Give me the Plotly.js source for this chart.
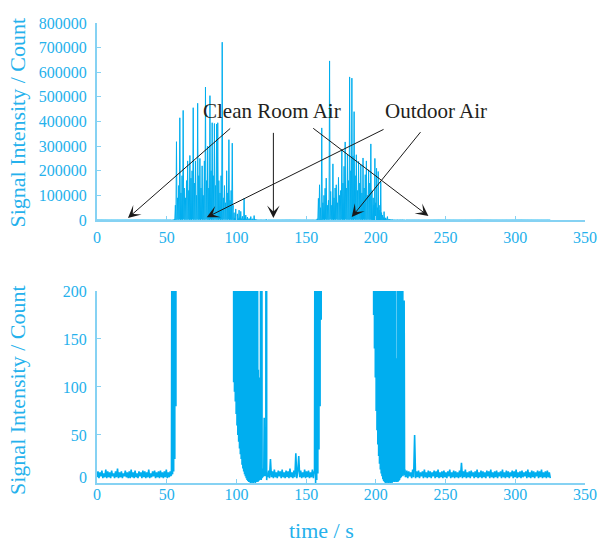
<!DOCTYPE html>
<html>
<head>
<meta charset="utf-8">
<script src="https://cdn.plot.ly/plotly-3.0.1.min.js"></script>
<style>html,body{margin:0;padding:0;background:#fff}#chart{width:601px;height:543px}</style>
</head>
<body>
<div id="chart"></div>
<script>
// ---- data (time in s, signal in counts), each segment regularly sampled ----
const segStart = [0, 53.4, 98.0, 122.3, 156.0, 197.8, 221.5];
const segStep  = [0.7, 0.4, 0.3, 0.7, 0.4, 0.3, 0.7];

const baseline1 = [6,12,5,11,7,13,5,10,6,14, 5,12,6,11,5,13,7,10,5,12, 6,15,5,11,6,12,5,10,7,13,
  6,11,5,12,5,14,6,11,5,13, 6,10,5,12,7,11,5,13,6,12, 5,11,6,14,5,10,6,12,7,13, 5,11,6,12,5,13,6,11,5,12,
  6,14,5,11,6,12,7];
const burst1 = [8,350,9,900,12,3000,25,60000,80,318000,1500,90000,800,140000,2000,415000,700,110000,1800,180000,
  900,445000,2500,130000,600,90000,1400,160000,800,240000,2000,120000,700,262000,1600,170000,900,200000,2200,456000,
  800,150000,1500,240000,600,100000,2000,474000,900,180000,1700,250000,700,130000,2400,220000,800,100000,1500,240000,
  600,540000,2000,160000,900,300000,1300,130000,700,505000,2200,200000,800,395000,1500,180000,600,392000,1900,140000,
  900,390000,1400,395000,700,160000,2000,110000,800,180000,1600,722000,600,90000,1800,140000,900,70000,1500,200000,
  700,110000,2100,326000,800,80000,1300,120000,600,312000,900,60000];
const decay1 = [105,30000,95,8000,85,45000,72,12000,60,25000,50,6000,43,40000,36,9000,30,35000,25,5000,19,15000,
  15,4000,12,88000,9,3000,7,20000,5,2500,3,12000,2,1800,1,6000,1,1500,0,14000,1,1200,0,5000,1,900,0,18000,1,600,
  0,3000,1,500,2,300,1,118,2,110,3,95,4,900,3,600,5,14,6,15,7,68,8,13,7,14,2500,3,11];
const baseline2 = [6,13,5,25,6,12,5,14,6,11, 5,13,7,12,5,14,6,11,5,13, 6,12,5,15,6,11,5,13,6,31,
  5,12,28,6,13,5,11,6,14,5, 12,6,13,5,11,6,14,5,12];
const burst2 = [10,400,0,900,3,5000,10,88000,35,143000,80,50000,170,374000,800,70000,1500,100000,600,129000,
  2000,170000,900,60000,1200,80000,700,646000,2500,116000,800,60000,1500,228000,600,90000,1800,130000,900,143000,
  2200,70000,700,173000,1300,100000,500,120000,2000,286000,800,150000,1600,218000,700,317000,2400,130000,900,265000,
  1400,160000,600,581000,2000,200000,800,576000,1500,260000,700,440000,2200,180000,900,265000,1300,120000,600,238000,
  1800,150000,800,224000,1500,110000,700,252000,2000,130000,900,184000,1400,240000,600,100000,1700,204000,800,150000,
  1200,309000,500,120000,250];
const decay2 = [200,90000,175,60000,140,250000,110,70000,75,210000,55,50000,40,197000,28,40000,20,60000,14,156000,
  10,30000,7,20000,4,10000,2,34000,1,5000,0,9000,1,2000,0,14000,1,1000,0,4000,1,800,0,2500,1,600,0,1800,1,500,
  2,1000,1,400,2,130,1,125,2,700,1,140,2,900,3,600,5,1200,6,500,8,800,7,130,9,190,8,14,6];
const baseline3 = [6,13,5,12,7,11,5,14,6,50, 5,12,6,13,5,11,7,12,5,14, 6,11,5,13,6,12,5,11,7,13,
  5,12,6,14,5,11,6,12,5,13, 6,11,5,12,7,14,5,11,6,13, 5,12,6,11,5,13,6,21,5,12, 6,14,5,11,6,12,5,13,7,11,
  5,12,6,14,5,11,6,13,5,12, 6,11,5,13,7,12,5,14,6,11, 5,12,6,13,5,11,7,12,5,14, 6,11,5,13,6,12,5,11,7,13,
  5,12,6,14,5,11,6,12,5,13, 6,11,7,12,5,14,6,11,5,13, 6,12,5,11,7,13,5,12,6,14, 5,11,6,12,5,13,6,11,5];
const segments = [baseline1, burst1, decay1, baseline2, burst2, decay2, baseline3];

// tick labels
const xTicks = [0,50,100,150,200,250,300,350];
const topYTicks = [0,100000,200000,300000,400000,500000,600000,700000,800000];
const bottomYTicks = [50,100,150,200];

// annotation arrows (head / tail in data units of the top panel)
const arrowHeadT = [22.2, 126.5, 237.7, 78.7, 182.7];
const arrowHeadV = [8000, 8000, 16000, 11000, 12000];
const arrowTailT = [96.6, 126.5, 154.0, 206.6, 232.9];
const arrowTailV = [377000, 360000, 377000, 371000, 363000];
const labelTexts = ['Clean Room Air', 'Outdoor Air'];

// ---- styling ----
const dataColor = '#00AEEF';
const labelColor = '#25B1EC';
const lineColor = '#86D2F3';
const serif = 'Liberation Serif, Times New Roman, serif';

const traces = [];
segments.forEach((seg, i) => {
  [['x','y',1],['x2','y2',1.6]].forEach(([xa, ya, w]) => {
    traces.push({
      type: 'scatter', mode: 'lines', x0: segStart[i], dx: segStep[i], y: seg,
      xaxis: xa, yaxis: ya, hoverinfo: 'skip',
      line: {color: dataColor, width: w, simplify: false}
    });
  });
});

function xAxis(anchor, standoff) {
  return {
    anchor: anchor, domain: [0, 1], range: [0, 350], tickvals: xTicks,
    ticks: 'inside', ticklen: 4, tickcolor: lineColor, tickwidth: 1,
    showline: true, linecolor: lineColor, linewidth: 2, mirror: false,
    showgrid: false, zeroline: false, ticklabelstandoff: standoff,
    tickfont: {family: serif, size: 16, color: labelColor}
  };
}
function yAxis(anchor, domain, range, tickvals) {
  return {
    anchor: anchor, domain: domain, range: range, tickvals: tickvals, tickformat: 'd',
    ticks: 'inside', ticklen: 4, tickcolor: lineColor, tickwidth: 1,
    showline: true, linecolor: lineColor, linewidth: 2,
    showgrid: false, zeroline: false, ticklabelstandoff: 5,
    tickfont: {family: serif, size: 16, color: labelColor}
  };
}

const annotations = [];
for (let i = 0; i < arrowHeadT.length; i++) {
  annotations.push({
    xref: 'x', yref: 'y', axref: 'x', ayref: 'y',
    x: arrowHeadT[i], y: arrowHeadV[i], ax: arrowTailT[i], ay: arrowTailV[i],
    text: '', showarrow: true, arrowhead: 3, arrowsize: 2.1, arrowwidth: 1,
    arrowcolor: '#1a1a1a', standoff: 0, startstandoff: 0
  });
}
annotations.push({xref:'paper', yref:'paper', x:0.359, y:0.8087, xanchor:'center', yanchor:'middle',
  text: labelTexts[0], showarrow:false, font:{family:serif, size:21, color:'#231F20'}});
annotations.push({xref:'paper', yref:'paper', x:0.6953, y:0.8087, xanchor:'center', yanchor:'middle',
  text: labelTexts[1], showarrow:false, font:{family:serif, size:21, color:'#231F20'}});
annotations.push({xref:'paper', yref:'paper', x:0.461, y:(483-530.5)/460, xanchor:'center', yanchor:'middle',
  text:'time / s', showarrow:false, font:{family:serif, size:22, color:labelColor}});
annotations.push({xref:'paper', yref:'paper', x:-0.1619, y:0.7837, xanchor:'center', yanchor:'middle',
  text:'Signal Intensity / Count', textangle:-90, showarrow:false, font:{family:serif, size:22, color:labelColor}});
annotations.push({xref:'paper', yref:'paper', x:-0.1619, y:0.2022, xanchor:'center', yanchor:'middle',
  text:'Signal Intensity / Count', textangle:-90, showarrow:false, font:{family:serif, size:22, color:labelColor}});
annotations.push({xref:'paper', yref:'paper', x:-0.0174, y:(483-477.3)/460, xanchor:'right', yanchor:'middle',
  text:'0', showarrow:false, font:{family:serif, size:16, color:labelColor}});

const layout = {
  width: 601, height: 543,
  margin: {l: 97, r: 16, t: 23, b: 60, pad: 0},
  paper_bgcolor: '#ffffff', plot_bgcolor: '#ffffff',
  showlegend: false,
  xaxis: xAxis('y', 2),
  yaxis: yAxis('x', [0.5717, 1], [0, 800000], topYTicks),
  xaxis2: xAxis('y2', -4),
  yaxis2: yAxis('x2', [0, 0.4174], [0, 200], bottomYTicks),
  annotations: annotations
};

Plotly.newPlot('chart', traces, layout, {staticPlot: true, displayModeBar: false});
</script>
</body>
</html>
